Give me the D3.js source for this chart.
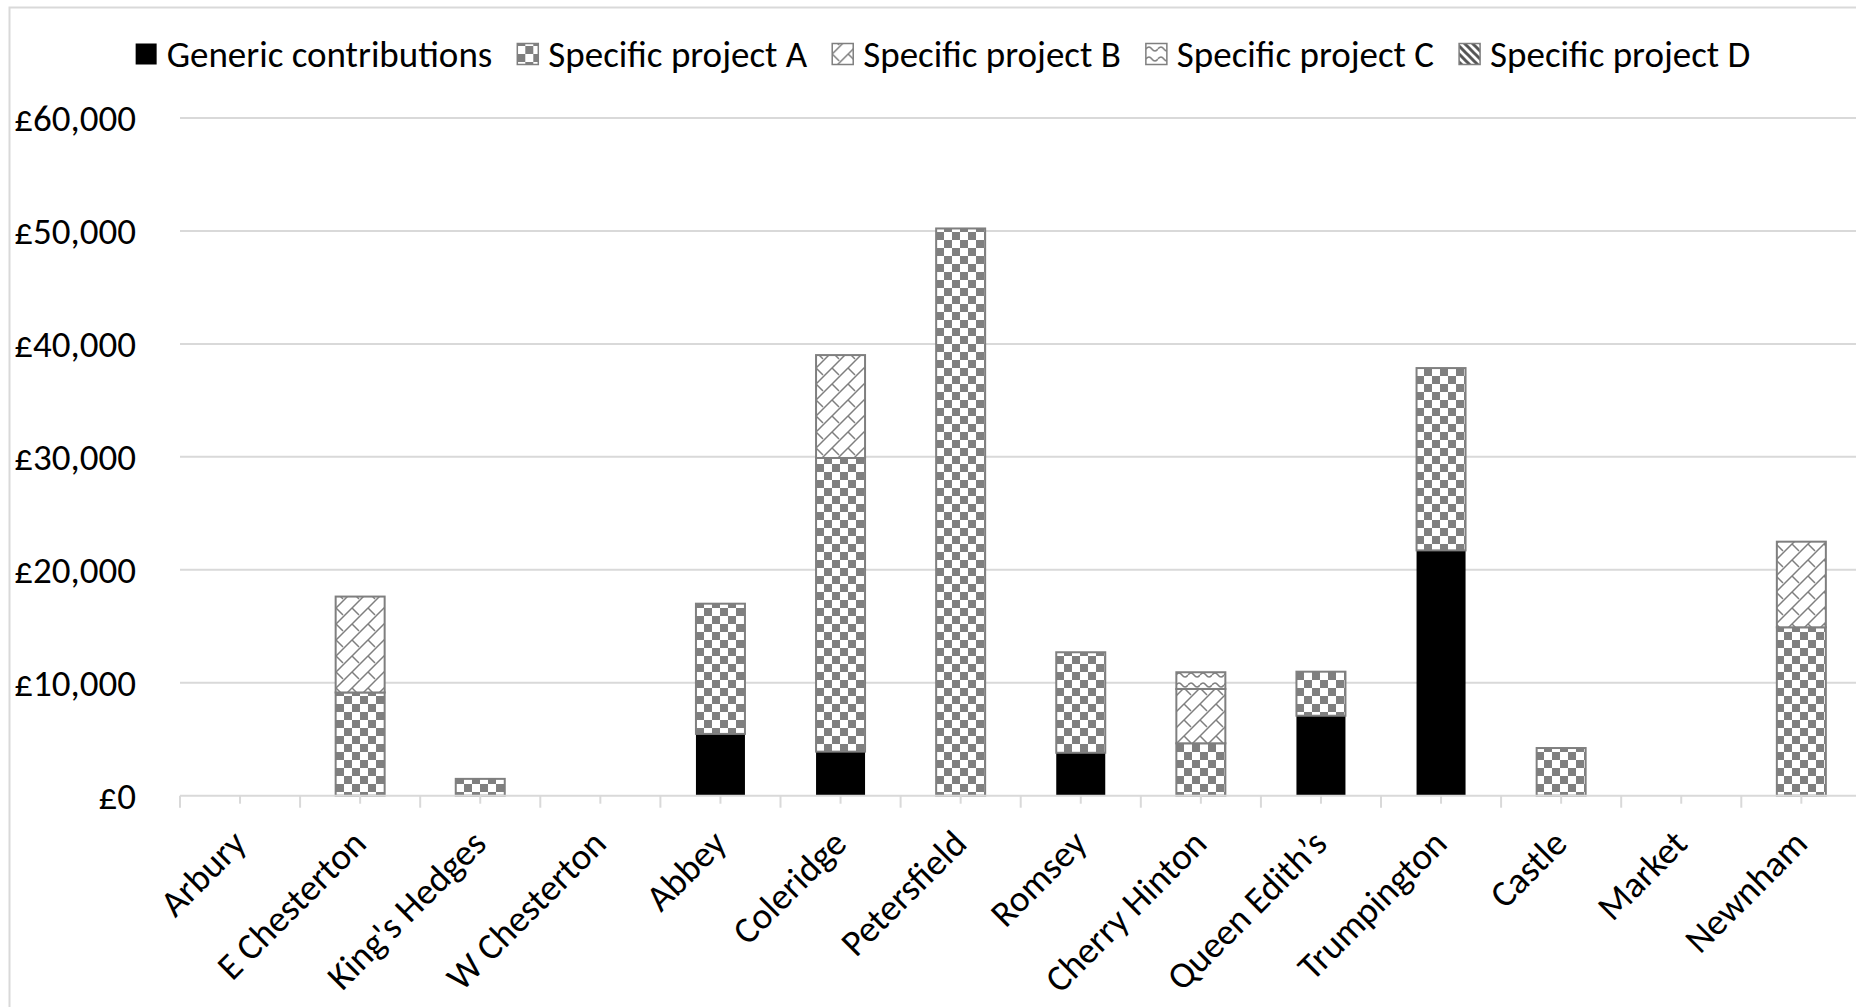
<!DOCTYPE html>
<html>
<head>
<meta charset="utf-8">
<script src="https://cdn.jsdelivr.net/npm/d3@7"></script>
<style>
  html, body { margin: 0; padding: 0; background: #fff; }
  svg { display: block; }
  text { font-family: Carlito, Calibri, Lato, sans-serif; }
</style>
</head>
<body>
<div id="chart"></div>
<script>
// Wards along the x axis
const categories = ["Arbury", "E Chesterton", "King's Hedges", "W Chesterton", "Abbey", "Coleridge",
    "Petersfield", "Romsey", "Cherry Hinton", "Queen Edith\u2019s", "Trumpington", "Castle", "Market", "Newnham"];

// Series values (£)
const generic  = [0, 0, 0, 0, 5470, 3900, 0, 3800, 0, 7080, 21720, 0, 0, 0];
const projectA = [0, 9140, 1490, 0, 11530, 26000, 50220, 8900, 4640, 3900, 16140, 4220, 0, 14910];
const projectB = [0, 8490, 0, 0, 0, 9110, 0, 0, 4810, 0, 0, 0, 0, 7580];
const projectC = [0, 0, 0, 0, 0, 0, 0, 0, 1480, 0, 0, 0, 0, 0];
const projectD = [0, 0, 0, 0, 0, 0, 0, 0, 0, 0, 0, 0, 0, 0];

const seriesNames = ["Generic contributions", "Specific project A", "Specific project B", "Specific project C", "Specific project D"];
const seriesKeys = ["generic", "a", "b", "c", "d"];
const yTicks = [0, 10000, 20000, 30000, 40000, 50000, 60000];

const width = 1856, height = 1007;
const plotLeft = 180, step = 120.1;
const plotBottom = 795.7, plotTop = 118;
const fontSize = "37px";

const svg = d3.select("#chart").append("svg")
    .attr("width", width)
    .attr("height", height);

// Fill patterns
const defs = svg.append("defs");
const grey = "#7f7f7f";

const checker = defs.append("pattern").attr("id", "pat-a")
    .attr("patternUnits", "userSpaceOnUse").attr("width", 16).attr("height", 16);
checker.append("rect").attr("width", 16).attr("height", 16).attr("fill", "#fff");
checker.append("rect").attr("width", 8).attr("height", 8).attr("fill", grey);
checker.append("rect").attr("x", 8).attr("y", 8).attr("width", 8).attr("height", 8).attr("fill", grey);

// shingle-like diagonal brick
const shingle = defs.append("pattern").attr("id", "pat-b")
    .attr("patternUnits", "userSpaceOnUse").attr("width", 16).attr("height", 16);
shingle.append("rect").attr("width", 16).attr("height", 16).attr("fill", "#fff");
shingle.append("path")
    .attr("d", "M-4,4 L4,-4 M0,16 L16,0 M12,20 L20,12 M0,0 L7,7")
    .attr("stroke", grey).attr("stroke-width", 1.5).attr("fill", "none");

// wave
const wave = defs.append("pattern").attr("id", "pat-c")
    .attr("patternUnits", "userSpaceOnUse").attr("width", 12).attr("height", 10);
wave.append("rect").attr("width", 12).attr("height", 10).attr("fill", "#fff");
wave.append("path")
    .attr("d", "M0,5 Q3,1 6,5 T12,5")
    .attr("stroke", grey).attr("stroke-width", 1.5).attr("fill", "none");

// wide downward diagonal
const diag = defs.append("pattern").attr("id", "pat-d")
    .attr("patternUnits", "userSpaceOnUse").attr("width", 8).attr("height", 8);
diag.append("rect").attr("width", 8).attr("height", 8).attr("fill", "#fff");
diag.append("path")
    .attr("d", "M-2,-2 L10,10 M-2,6 L2,10 M6,-2 L10,2")
    .attr("stroke", "#555").attr("stroke-width", 3).attr("fill", "none");

const fills = { generic: "#000", a: "url(#pat-a)", b: "url(#pat-b)", c: "url(#pat-c)", d: "url(#pat-d)" };

// Chart area border
svg.append("rect")
    .attr("x", 9.5).attr("y", 7.5)
    .attr("width", width + 20).attr("height", height + 20)
    .attr("fill", "none").attr("stroke", "#d9d9d9").attr("stroke-width", 2);

// Scales
const x = d3.scaleBand()
    .domain(categories)
    .range([plotLeft, plotLeft + step * categories.length])
    .paddingInner(0.592)
    .paddingOuter(0.296);

const y = d3.scaleLinear().domain([0, 60000]).range([plotBottom, plotTop]);

// Gridlines
svg.append("g").selectAll("line")
    .data(yTicks.slice(1))
    .join("line")
    .attr("x1", plotLeft).attr("x2", plotLeft + step * categories.length)
    .attr("y1", d => y(d)).attr("y2", d => y(d))
    .attr("stroke", "#d9d9d9").attr("stroke-width", 2);

// Y labels
svg.append("g").selectAll("text")
    .data(yTicks)
    .join("text")
    .attr("x", 136)
    .attr("y", d => y(d))
    .attr("dy", "0.35em")
    .attr("text-anchor", "end")
    .style("font-size", fontSize)
    .attr("fill", "#000")
    .text(d => "\u00a3" + d3.format(",")(d));

// Stacked bars
const rows = categories.map((c, i) => ({
    cat: c, generic: generic[i], a: projectA[i], b: projectB[i], c: projectC[i], d: projectD[i]
}));
const stacked = d3.stack().keys(seriesKeys)(rows);

svg.append("g").selectAll("g")
    .data(stacked)
    .join("g")
    .attr("fill", d => fills[d.key])
    .attr("stroke", d => d.key === "generic" ? "none" : grey)
    .attr("stroke-width", 2)
    .selectAll("rect")
    .data(d => d.filter(p => p[1] - p[0] > 0))
    .join("rect")
    .attr("x", d => x(d.data.cat))
    .attr("width", x.bandwidth())
    .attr("y", d => y(d[1]))
    .attr("height", d => y(d[0]) - y(d[1]));

// X axis line and ticks
const axisG = svg.append("g");
axisG.append("line")
    .attr("x1", plotLeft).attr("x2", plotLeft + step * categories.length)
    .attr("y1", plotBottom).attr("y2", plotBottom)
    .attr("stroke", "#d9d9d9").attr("stroke-width", 2);
const bounds = d3.range(categories.length + 1).map(i => plotLeft + i * step);
axisG.selectAll(".tb")
    .data(bounds)
    .join("line")
    .attr("class", "tb")
    .attr("x1", d => d).attr("x2", d => d)
    .attr("y1", plotBottom).attr("y2", plotBottom + 12)
    .attr("stroke", "#d9d9d9").attr("stroke-width", 2);
axisG.selectAll(".tc")
    .data(categories)
    .join("line")
    .attr("class", "tc")
    .attr("x1", d => x(d) + x.bandwidth() / 2).attr("x2", d => x(d) + x.bandwidth() / 2)
    .attr("y1", plotBottom).attr("y2", plotBottom + 8)
    .attr("stroke", "#d9d9d9").attr("stroke-width", 2);

// Category labels, rotated
svg.append("g").selectAll("text")
    .data(categories)
    .join("text")
    .attr("transform", d => `translate(${x(d) + x.bandwidth() / 2 + 8},${plotBottom + 50}) rotate(-45)`)
    .attr("text-anchor", "end")
    .style("font-size", fontSize)
    .attr("fill", "#000")
    .text(d => d);

// Legend
const legend = svg.append("g");
let lx = 0;
seriesNames.forEach((name, i) => {
    const g = legend.append("g");
    g.append("rect")
        .attr("x", 0).attr("y", -10.5)
        .attr("width", 21).attr("height", 21)
        .attr("fill", fills[seriesKeys[i]])
        .attr("stroke", i === 0 ? "none" : grey)
        .attr("stroke-width", 1.5);
    const t = g.append("text")
        .attr("x", 31).attr("dy", "0.35em")
        .style("font-size", fontSize)
        .attr("fill", "#000")
        .text(name);
    const w = 31 + t.node().getComputedTextLength();
    g.attr("transform", `translate(${lx},0)`);
    lx += w + 25;
});
const legendW = lx - 25;
legend.attr("transform", `translate(${943 - legendW / 2},54)`);
</script>
</body>
</html>
